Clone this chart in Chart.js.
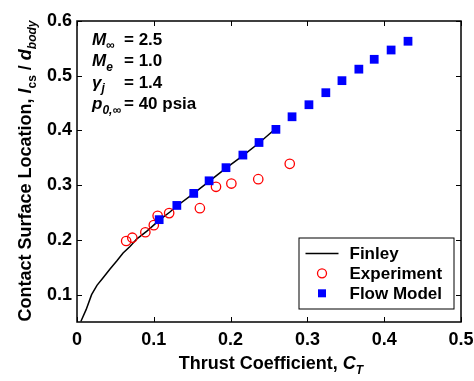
<!DOCTYPE html>
<html><head><meta charset="utf-8">
<script src="https://cdn.jsdelivr.net/npm/chart.js@4/dist/chart.umd.min.js"></script>
<style>html,body{margin:0;padding:0;background:#fff}#wrap{width:474px;height:381px;position:relative}</style>
</head><body><div id="wrap"><canvas id="c"></canvas></div>
<script>
const finleyX = [0.005, 0.012, 0.019, 0.026, 0.034, 0.043, 0.052, 0.060, 0.069, 0.078, 0.091, 0.108, 0.121, 0.130, 0.152, 0.172, 0.194, 0.216, 0.237, 0.255];
const finleyY = [0.051, 0.073, 0.100, 0.117, 0.131, 0.147, 0.162, 0.176, 0.188, 0.202, 0.216, 0.237, 0.251, 0.262, 0.285, 0.307, 0.331, 0.354, 0.377, 0.399];
const expX = [0.064, 0.072, 0.089, 0.100, 0.105, 0.120, 0.160, 0.181, 0.201, 0.236, 0.277];
const expY = [0.198, 0.204, 0.214, 0.227, 0.244, 0.249, 0.258, 0.297, 0.303, 0.311, 0.339];
const flowX = [0.107, 0.130, 0.152, 0.172, 0.194, 0.216, 0.237, 0.259, 0.280, 0.302, 0.324, 0.345, 0.367, 0.387, 0.409, 0.431];
const flowY = [0.237, 0.263, 0.285, 0.308, 0.332, 0.355, 0.378, 0.402, 0.425, 0.447, 0.469, 0.491, 0.512, 0.530, 0.547, 0.563];
const xTicks = [0, 0.1, 0.2, 0.3, 0.4, 0.5];
const yTicks = [0.1, 0.2, 0.3, 0.4, 0.5, 0.6];
const seriesNames = ['Finley', 'Experiment', 'Flow Model'];
const xTitle = [{t:'Thrust Coefficient, '},{t:'C',it:1},{t:'T',it:1,sub:1}];
const yTitle = [{t:'Contact Surface Location, '},{t:'l',it:1},{t:'cs',sub:1},{t:' / '},{t:'d',it:1},{t:'body',it:1,sub:1}];
const annot = [
  {sym:[{t:'M',it:1},{t:'\u221E',sub:1}], val:'= 2.5'},
  {sym:[{t:'M',it:1},{t:'e',it:1,sub:1}], val:'= 1.0'},
  {sym:[{t:'\u03B3',it:1},{t:'j',it:1,sub:1}], val:'= 1.4'},
  {sym:[{t:'p',it:1},{t:'0,\u221E',it:1,sub:1}], val:'= 40 psia'}
];

const FONT = '"Liberation Sans", Arial, Helvetica, sans-serif';
const pts = (xs, ys) => xs.map((v, i) => ({x: v, y: ys[i]}));

function fontFor(s, size){
  const sz = s.sub ? Math.round(size*0.68) : size;
  return (s.it ? 'italic ' : '') + 'bold ' + sz + 'px ' + FONT;
}
function richWidth(ctx, segs, size){
  let w = 0;
  segs.forEach(s => { ctx.font = fontFor(s, size); w += ctx.measureText(s.t).width; });
  return w;
}
function drawRich(ctx, segs, x, y, size){
  let cx = x;
  segs.forEach(s => {
    ctx.font = fontFor(s, size);
    ctx.fillText(s.t, cx, y + (s.sub ? size*0.28 : 0));
    cx += ctx.measureText(s.t).width;
  });
  return cx - x;
}

const decor = {
  id: 'decor',
  afterDatasetsDraw(chart){
    const {ctx, chartArea: a, scales: {x, y}} = chart;
    ctx.save();
    ctx.strokeStyle = '#000';
    ctx.lineWidth = 1;
    const L = 5;
    ctx.beginPath();
    xTicks.forEach(v => { const p = Math.round(x.getPixelForValue(v)) + 0.5;
      ctx.moveTo(p, a.bottom); ctx.lineTo(p, a.bottom - L);
      ctx.moveTo(p, a.top); ctx.lineTo(p, a.top + L); });
    yTicks.forEach(v => { const p = Math.round(y.getPixelForValue(v)) + 0.5;
      ctx.moveTo(a.left, p); ctx.lineTo(a.left + L, p);
      ctx.moveTo(a.right, p); ctx.lineTo(a.right - L, p); });
    ctx.stroke();
    ctx.lineWidth = 1.5;
    ctx.strokeRect(a.left, a.top, a.right - a.left, a.bottom - a.top);

    ctx.fillStyle = '#000';
    ctx.textBaseline = 'alphabetic';
    ctx.textAlign = 'left';
    // annotation
    const ax = a.left + 15;
    const base = [23.5, 45.2, 66.5, 88];
    annot.forEach((r, i) => {
      drawRich(ctx, r.sym, ax, a.top + base[i], 17);
      ctx.font = 'bold 17px ' + FONT;
      ctx.fillText(r.val, a.left + 47, a.top + base[i]);
    });

    // legend
    const bw = 155, bh = 71;
    const bx = a.right - 7.5 - bw, by = a.bottom - 13.5 - bh;
    ctx.fillStyle = '#fff';
    ctx.fillRect(bx, by, bw, bh);
    ctx.lineWidth = 1;
    ctx.strokeStyle = '#000';
    ctx.strokeRect(bx + 0.5, by + 0.5, bw, bh);
    const rowsY = [16, 35.8, 55.8];
    const ds = chart.data.datasets;
    ds.forEach((d, i) => {
      const cy = by + rowsY[i];
      if (d.showLine) {
        ctx.strokeStyle = d.borderColor; ctx.lineWidth = 1.5;
        ctx.beginPath(); ctx.moveTo(bx + 7, cy); ctx.lineTo(bx + 40, cy); ctx.stroke();
      } else if (d.pointStyle === 'rect') {
        ctx.fillStyle = d.pointBackgroundColor;
        ctx.fillRect(bx + 23.5 - 4, cy - 4, 8, 8);
      } else {
        ctx.strokeStyle = d.pointBorderColor; ctx.lineWidth = 1.3;
        ctx.beginPath(); ctx.arc(bx + 23.5, cy, 4.5, 0, Math.PI*2); ctx.stroke();
      }
      ctx.fillStyle = '#000';
      ctx.font = 'bold 17px ' + FONT;
      ctx.fillText(d.label, bx + 51, cy + 5.5);
    });

    // x title
    ctx.fillStyle = '#000';
    const wx = richWidth(ctx, xTitle, 18);
    drawRich(ctx, xTitle, (a.left + a.right)/2 + 2 - wx/2, 369, 18);
    // y title
    const wy = richWidth(ctx, yTitle, 18);
    ctx.translate(30.5, 171);
    ctx.rotate(-Math.PI/2);
    drawRich(ctx, yTitle, -wy/2, 0, 18);
    ctx.restore();
  }
};

new Chart(document.getElementById('c'), {
  type: 'scatter',
  data: {
    datasets: [
      {label: seriesNames[0], data: pts(finleyX, finleyY), showLine: true, borderColor: '#000', borderWidth: 1.5,
       pointRadius: 0, tension: 0, order: 2},
      {label: seriesNames[1], data: pts(expX, expY), showLine: false, pointStyle: 'circle', pointRadius: 4.7,
       pointBorderColor: '#ff0000', pointBackgroundColor: 'rgba(0,0,0,0)', pointBorderWidth: 1.3, order: 1},
      {label: seriesNames[2], data: pts(flowX, flowY), showLine: false, pointStyle: 'rect', pointRadius: 6.2,
       pointBorderColor: '#0000ff', pointBackgroundColor: '#0000ff', pointBorderWidth: 0, order: 0}
    ]
  },
  options: {
    responsive: true, maintainAspectRatio: false, animation: false,
    devicePixelRatio: 1,
    layout: {padding: {left: 0, top: 21, right: 13, bottom: 0}},
    plugins: {legend: {display: false}, tooltip: {enabled: false}},
    scales: {
      x: {type: 'linear', min: 0, max: 0.5,
          afterBuildTicks: s => { s.ticks = xTicks.map(v => ({value: v})); },
          afterFit: s => { s.height = 59; s.paddingRight = 0; s.paddingLeft = 0; },
          grid: {display: false, drawTicks: false}, border: {display: false},
          ticks: {padding: 7, color: '#000', font: {family: FONT, size: 18, weight: 'bold'},
                  callback: v => String(v), maxRotation: 0}},
      y: {type: 'linear', min: 0.05, max: 0.6,
          afterBuildTicks: s => { s.ticks = yTicks.map(v => ({value: v})); },
          afterFit: s => { s.width = 77; s.paddingTop = 0; s.paddingBottom = 0; },
          grid: {display: false, drawTicks: false}, border: {display: false},
          ticks: {padding: 5, color: '#000', font: {family: FONT, size: 18, weight: 'bold'},
                  callback: v => String(v)}}
    }
  },
  plugins: [decor]
});
</script></body></html>
